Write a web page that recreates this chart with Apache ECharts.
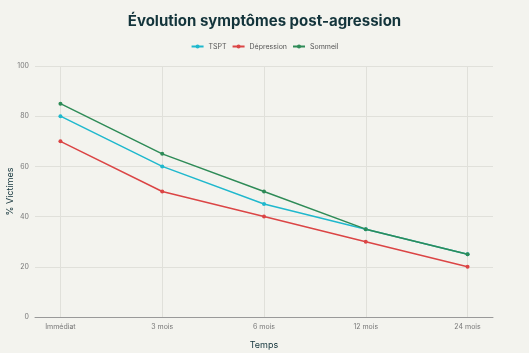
<!DOCTYPE html>
<html>
<head>
<meta charset="utf-8">
<script src="https://cdn.jsdelivr.net/npm/echarts@6/dist/echarts.min.js"></script>
<style>
  html, body { margin: 0; padding: 0; background: #f3f3ee; }
  #chart { width: 529px; height: 353px; }
</style>
</head>
<body>
<div id="chart"></div>
<script>
// données
var categories = ['Immédiat', '3 mois', '6 mois', '12 mois', '24 mois'];
var tspt = [80, 60, 45, 35, 25];
var depression = [70, 50, 40, 30, 20];
var sommeil = [85, 65, 50, 35, 25];

function toPoints(arr) {
  return arr.map(function (v, i) { return [i, v]; });
}

var chart = echarts.init(document.getElementById('chart'));
var idx = categories.map(function (c, i) { return i; });

function serie(name, data, color) {
  return {
    name: name,
    type: 'line',
    data: toPoints(data),
    symbol: 'circle',
    symbolSize: 4,
    lineStyle: { width: 1.5, color: color },
    itemStyle: { color: color }
  };
}

chart.setOption({
  backgroundColor: '#f3f3ee',
  textStyle: { fontFamily: 'Inter, Liberation Sans, sans-serif' },
  title: {
    text: 'Évolution symptômes post-agression',
    left: 'center',
    top: 9,
    textStyle: { fontSize: 15, fontWeight: 'bold', color: '#13343b' }
  },
  legend: {
    top: 38,
    left: 'center',
    itemWidth: 12,
    itemHeight: 5,
    itemGap: 5,
    textStyle: { fontSize: 7, color: '#555' },
    data: ['TSPT', 'Dépression', 'Sommeil']
  },
  grid: [
    { left: 35, right: 36, top: 66, bottom: 36, outerBoundsMode: 'none' },
    // grille des lignes verticales, alignée sur les catégories
    { left: 60.4, right: 61.4, top: 66, bottom: 36, outerBoundsMode: 'none' }
  ],
  xAxis: [{
    type: 'value',
    gridIndex: 0,
    min: -0.25,
    max: 4.25,
    name: 'Temps',
    nameLocation: 'middle',
    nameGap: 24,
    nameMoveOverlap: false,
    nameTextStyle: { fontSize: 9, color: '#13343b' },
    axisLine: { show: true, lineStyle: { color: '#999', width: 1 } },
    axisTick: { show: false, customValues: idx },
    axisLabel: {
      customValues: idx,
      margin: 6,
      fontSize: 7,
      color: '#777',
      formatter: function (v) { return categories[Math.round(v)]; }
    },
    splitLine: { show: false }
  }, {
    type: 'category',
    gridIndex: 1,
    data: categories,
    boundaryGap: false,
    axisLine: { show: false },
    axisTick: { show: false },
    axisLabel: { show: false },
    splitLine: { show: true, lineStyle: { color: '#e0e0da', width: 1 } }
  }],
  yAxis: [{
    type: 'value',
    gridIndex: 0,
    min: 0,
    max: 100,
    interval: 20,
    name: '% Victimes',
    nameLocation: 'middle',
    nameGap: 20,
    nameMoveOverlap: false,
    nameTextStyle: { fontSize: 9, color: '#13343b' },
    axisLine: { show: false },
    axisTick: { show: false },
    axisLabel: { fontSize: 7, color: '#777', margin: 6 },
    splitLine: { show: true, lineStyle: { color: '#e0e0da', width: 1 } }
  }, {
    type: 'value',
    gridIndex: 1,
    min: 0,
    max: 100,
    show: false,
    splitLine: { show: false }
  }],
  series: [
    serie('TSPT', tspt, '#1fb8cd'),
    serie('Dépression', depression, '#db4545'),
    serie('Sommeil', sommeil, '#2e8b57')
  ]
});
</script>
</body>
</html>
